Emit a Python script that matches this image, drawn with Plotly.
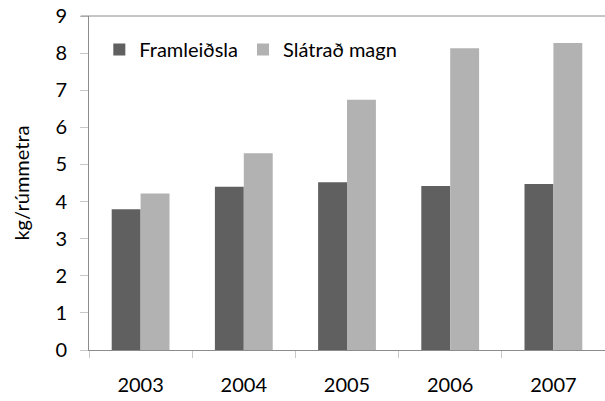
import plotly.graph_objects as go

years = ["2003", "2004", "2005", "2006", "2007"]
framleidsla = [3.79, 4.40, 4.52, 4.42, 4.47]
slatrad = [4.22, 5.30, 6.74, 8.13, 8.27]
y_ticks = [0, 1, 2, 3, 4, 5, 6, 7, 8, 9]

FONT = "Lato"
fig = go.Figure()
fig.add_trace(go.Bar(x=years, y=framleidsla, name="Framleiðsla",
                     marker=dict(color="#606060", line=dict(width=0))))
fig.add_trace(go.Bar(x=years, y=slatrad, name="Slátrað magn",
                     marker=dict(color="#b2b2b2", line=dict(width=0))))

fig.update_layout(
    width=605, height=401,
    margin=dict(l=89, r=0, t=16, b=51),
    paper_bgcolor="white", plot_bgcolor="white",
    font=dict(family=FONT, size=20, color="#000000"),
    barmode="group", bargap=0.44, bargroupgap=0,
    showlegend=True,
    legend=dict(orientation="h", x=0.02, y=0.9, xanchor="left", yanchor="middle",
                bgcolor="rgba(0,0,0,0)", font=dict(size=20), itemwidth=30,
                traceorder="normal"),
    xaxis=dict(type="category", showline=True, linecolor="#8c8c8c", linewidth=1,
               mirror=False, ticks="outside", tickson="boundaries", ticklen=7,
               tickcolor="#c8c8c8", showgrid=False, ticklabelstandoff=17,
               tickfont=dict(size=20)),
    yaxis=dict(range=[0, 9], tickvals=y_ticks, showline=True, linecolor="#8c8c8c",
               linewidth=1, ticks="outside", ticklen=8, tickcolor="#c8c8c8",
               showgrid=False, zeroline=False, ticklabelstandoff=9,
               tickfont=dict(size=20),
               title=dict(text="kg/rúmmetra", font=dict(size=20), standoff=20)),
    shapes=[dict(type="line", xref="paper", yref="paper", x0=-0.016, x1=1.0,
                 y0=1, y1=1, line=dict(color="#8c8c8c", width=1))],
)
fig.write_html("out.html", config={"displayModeBar": False},
               post_script="document.body.style.margin='0';document.body.style.padding='0';"
                           "document.body.style.overflow='hidden';")
